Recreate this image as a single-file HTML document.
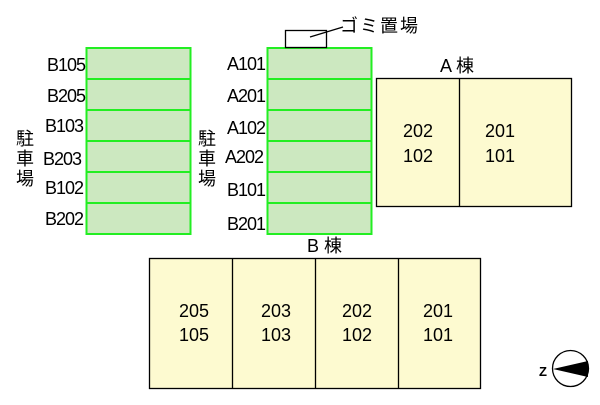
<!DOCTYPE html>
<html><head><meta charset="utf-8"><style>
body{margin:0;width:600px;height:400px;background:#fff;overflow:hidden}
svg text{font-family:"Liberation Sans","Noto Sans CJK JP",sans-serif;fill:#000}
</style></head><body>
<svg width="600" height="400" viewBox="0 0 600 400" xmlns="http://www.w3.org/2000/svg">
<g fill="#cce8c0" stroke="#22ee22" stroke-width="2">
<rect x="86.5" y="48" width="104" height="186"/>
<rect x="267.5" y="48" width="104" height="186"/>
</g>
<g stroke="#22ee22" stroke-width="2">
<line x1="86" y1="79" x2="191" y2="79"/><line x1="86" y1="110" x2="191" y2="110"/><line x1="86" y1="141" x2="191" y2="141"/><line x1="86" y1="172" x2="191" y2="172"/><line x1="86" y1="203" x2="191" y2="203"/>
<line x1="267" y1="79" x2="372" y2="79"/><line x1="267" y1="110" x2="372" y2="110"/><line x1="267" y1="141" x2="372" y2="141"/><line x1="267" y1="172" x2="372" y2="172"/><line x1="267" y1="203" x2="372" y2="203"/>
</g>
<g font-size="18" text-anchor="end" letter-spacing="-1">
<text x="85" y="71">B105</text><text x="85" y="102">B205</text><text x="83" y="132">B103</text><text x="81" y="165">B203</text><text x="83" y="194">B102</text><text x="83" y="225">B202</text>
<text x="265" y="70">A101</text><text x="265" y="102">A201</text><text x="265" y="134">A102</text><text x="263" y="163">A202</text><text x="265" y="196">B101</text><text x="265" y="230">B201</text>
</g>
<g font-size="18">
<text x="16" y="145">駐</text><text x="16" y="165">車</text><text x="16" y="185">場</text>
<text x="198" y="145">駐</text><text x="198" y="165">車</text><text x="198" y="185">場</text>
</g>
<rect x="285.5" y="30.5" width="41" height="17" fill="#fff" stroke="#000" stroke-width="1.3"/>
<line x1="310" y1="37" x2="343" y2="27" stroke="#000" stroke-width="1.3"/>
<text x="340" y="32" font-size="18" letter-spacing="2">ゴミ置場</text>
<text x="440" y="72" font-size="18">A 棟</text>
<text x="307" y="252" font-size="18">B 棟</text>
<g fill="#fdfad0" stroke="#000" stroke-width="1.3">
<rect x="376.5" y="78.5" width="195" height="128"/>
<rect x="149.5" y="258.5" width="331" height="130"/>
</g>
<g stroke="#000" stroke-width="1.3">
<line x1="459.5" y1="78" x2="459.5" y2="207"/>
<line x1="232.5" y1="258" x2="232.5" y2="389"/><line x1="315.5" y1="258" x2="315.5" y2="389"/><line x1="398.5" y1="258" x2="398.5" y2="389"/>
</g>
<g font-size="18" text-anchor="middle">
<text x="418" y="137">202</text><text x="418" y="162">102</text>
<text x="500" y="137">201</text><text x="500" y="162">101</text>
<text x="194" y="317">205</text><text x="194" y="341">105</text>
<text x="276" y="317">203</text><text x="276" y="341">103</text>
<text x="357" y="317">202</text><text x="357" y="341">102</text>
<text x="438" y="317">201</text><text x="438" y="341">101</text>
</g>
<circle cx="570.5" cy="368.5" r="18" fill="#fff" stroke="#000" stroke-width="1.3"/>
<polygon points="553,369 588,361 588,377" fill="#000"/>
<text x="539" y="376" font-size="13" font-weight="bold">Z</text>
</svg>
</body></html>
